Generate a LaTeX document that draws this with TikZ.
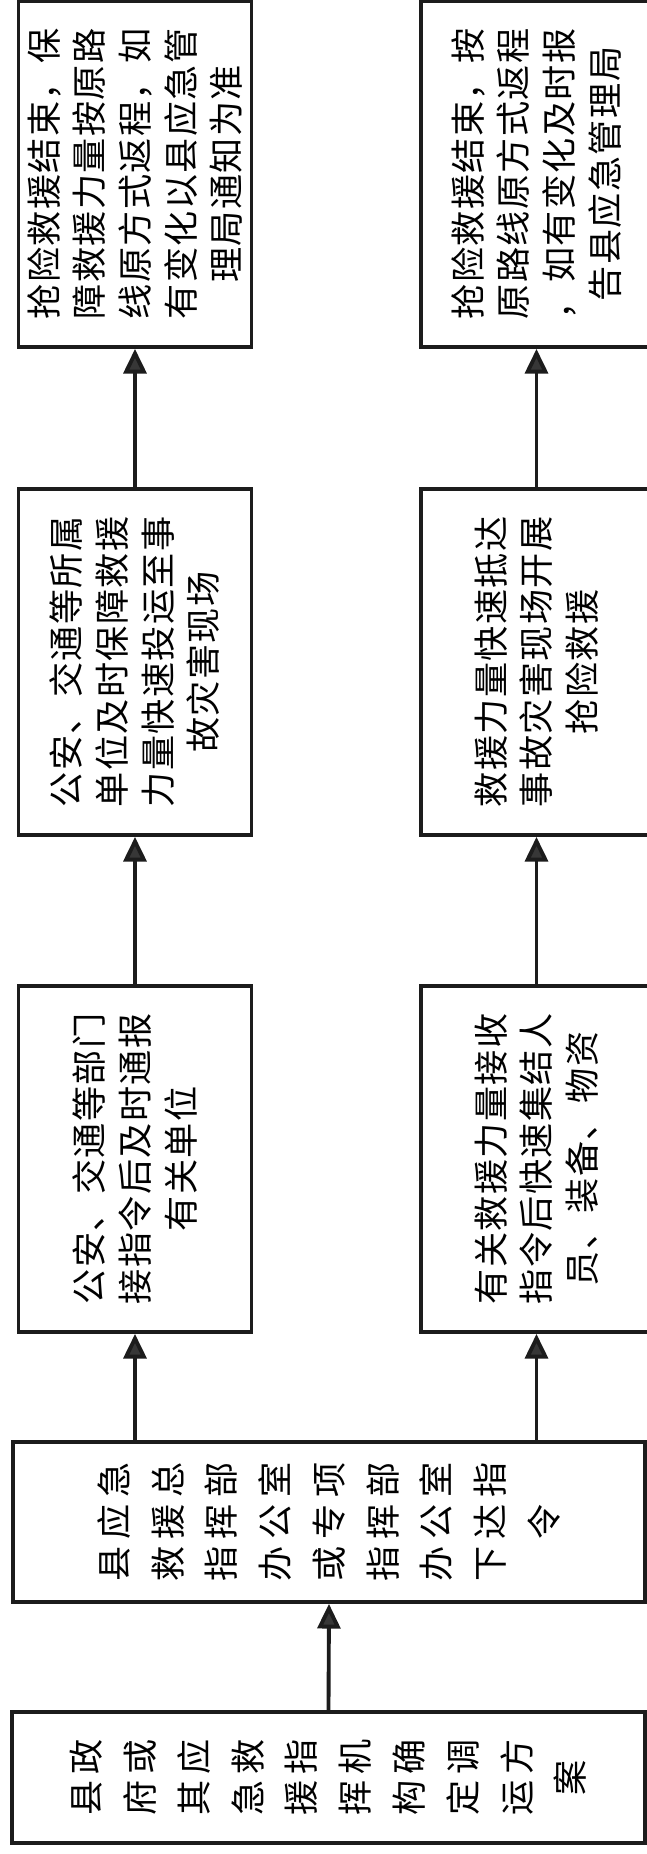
\documentclass[tikz,border=0pt]{standalone}
\usepackage{fontspec}
\usepackage{xcolor}
\usepackage{tikz}
\usetikzlibrary{arrows.meta}
\newfontfamily\cjktext{Noto Sans CJK SC}
% gap between Chinese characters
\newdimen\cjkgap
\newcount\cjkcount
\XeTeXinterchartokenstate=1
\cjkcount="3000
\loop \XeTeXcharclass\cjkcount=7 \advance\cjkcount by 1 \ifnum\cjkcount<"A000 \repeat
\XeTeXcharclass"FF0C=7
\XeTeXinterchartoks 7 7 = {\hskip\cjkgap\relax}
\definecolor{linegray}{RGB}{28, 28, 28}
\definecolor{tipgray}{RGB}{55, 55, 55}
\tikzset{
  flowbox/.style={draw=linegray, line width=2.2pt, rotate=90, inner sep=0pt, align=center,
    minimum width=6.92cm, font={\cjktext\fontsize{20}{26}\selectfont\cjkgap=0.8pt}},
  widebox/.style={flowbox, minimum height=12.65cm, font={\cjktext\fontsize{20}{30.6}\selectfont\cjkgap=3.8pt}},
  flow/.style={->, >={Triangle[length=14pt, width=13pt, fill=tipgray]}, draw=linegray, line width=2.2pt}
}

\begin{document}
\begin{tikzpicture}
            \useasboundingbox (0,0) rectangle (12.94,37.08);
            \fill[white] (0,0) rectangle (12.94,37.08);

            % Start
            \node[widebox, minimum width=2.62cm] (plan) at (6.57,1.53) {县政\\府或\\其应\\急救\\援指\\挥机\\构确\\定调\\运方\\案};
            \node[widebox, minimum width=3.2cm] (order) at (6.58,6.64) {县应急\\救援总\\指挥部\\办公室\\或专项\\指挥部\\办公室\\下达指\\令};

            % Left column
            \node[flowbox, minimum height=4.66cm] (notify) at (2.7,13.9) {公安、交通等部门\\接指令后及时通报\\有关单位};
            \node[flowbox, minimum height=4.66cm] (deliver) at (2.7,23.84) {公安、交通等所属\\单位及时保障救援\\力量快速投运至事\\故灾害现场};
            \node[flowbox, minimum height=4.66cm] (backA) at (2.7,33.6) {抢险救援结束，保\\障救援力量按原路\\线原方式返程，如\\有变化以县应急管\\理局通知为准};

            % Right column
            \node[flowbox, minimum height=4.62cm] (gather) at (10.73,13.9) {有关救援力量接收\\指令后快速集结人\\员、装备、物资};
            \node[flowbox, minimum height=4.62cm] (arrive) at (10.73,23.84) {救援力量快速抵达\\事故灾害现场开展\\抢险救援};
            \node[flowbox, minimum height=4.62cm] (backB) at (10.73,33.6) {抢险救援结束，按\\原路线原方式返程\\，如有变化及时报\\告县应急管理局};

            % Arrows
            \draw[flow] (plan.east) -- (order.west);
            \draw[flow] (notify.west |- order.east) -- (notify.west);
            \draw[flow] (gather.west |- order.east) -- (gather.west);
            \draw[flow] (notify.east) -- (deliver.west);
            \draw[flow] (deliver.east) -- (backA.west);
            \draw[flow] (gather.east) -- (arrive.west);
            \draw[flow] (arrive.east) -- (backB.west);
        \end{tikzpicture}
\end{document}
